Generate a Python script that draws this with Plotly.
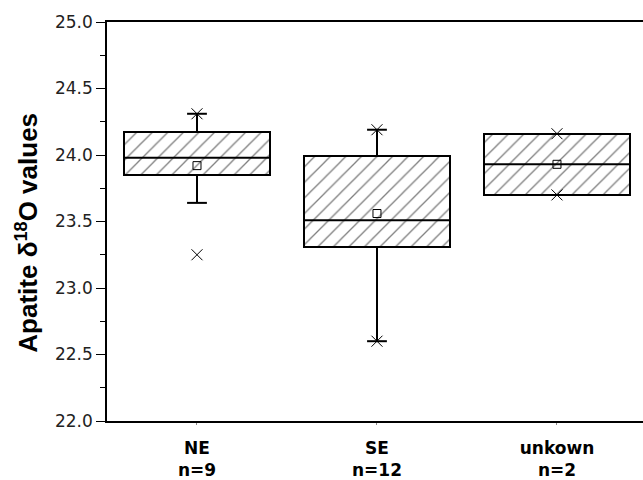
import plotly.graph_objects as go

# Box-plot summary statistics per region (apatite δ18O, ‰)
groups = ["NE", "SE", "unkown"]
n_counts = [9, 12, 2]
q1 = [23.85, 23.31, 23.70]
median = [23.98, 23.51, 23.93]
q3 = [24.17, 23.99, 24.16]
mean = [23.92, 23.56, 23.93]
whisker_lo = [23.64, 22.60, 23.70]
whisker_hi = [24.31, 24.19, 24.16]
data_min = [23.25, 22.60, 23.70]
data_max = [24.31, 24.19, 24.16]

pos = list(range(len(groups)))
box_w = 0.81
cap_w = 0.11
tick_family = "DejaVu Sans, sans-serif"
title_family = "Arial, Liberation Sans, sans-serif"

fig = go.Figure()

# hatched boxes from Q1 to Q3
fig.add_trace(go.Bar(
    x=pos,
    base=q1,
    y=[b - a for a, b in zip(q1, q3)],
    width=box_w,
    marker=dict(
        color="white",
        line=dict(color="black", width=2),
        pattern=dict(shape="/", fgcolor="black", bgcolor="white", size=11, solidity=0.12),
    ),
    hoverinfo="skip",
    showlegend=False,
))

# median lines
mx, my = [], []
for p, m in zip(pos, median):
    mx += [p - box_w / 2, p + box_w / 2, None]
    my += [m, m, None]
fig.add_trace(go.Scatter(x=mx, y=my, mode="lines",
                         line=dict(color="black", width=2), showlegend=False))

# whiskers and caps
wx, wy = [], []
for p, lo, hi, a, b in zip(pos, whisker_lo, whisker_hi, q1, q3):
    if hi > b:
        wx += [p, p, None, p - cap_w / 2, p + cap_w / 2, None]
        wy += [b, hi, None, hi, hi, None]
    if lo < a:
        wx += [p, p, None, p - cap_w / 2, p + cap_w / 2, None]
        wy += [a, lo, None, lo, lo, None]
fig.add_trace(go.Scatter(x=wx, y=wy, mode="lines",
                         line=dict(color="black", width=2), showlegend=False))

# mean markers
fig.add_trace(go.Scatter(x=pos, y=mean, mode="markers",
                         marker=dict(symbol="square-open", size=8, color="black",
                                     line=dict(width=1)),
                         showlegend=False))

# minimum / maximum markers
fig.add_trace(go.Scatter(x=pos + pos, y=data_min + data_max, mode="markers",
                         marker=dict(symbol="x-thin-open", size=11, color="black",
                                     line=dict(width=1, color="black")),
                         showlegend=False))

ticktext = [f"<b>{g}</b><br><b>n={n}</b>" for g, n in zip(groups, n_counts)]

fig.update_layout(
    width=643, height=480,
    margin=dict(l=107, r=0, t=22, b=57),
    paper_bgcolor="white", plot_bgcolor="white",
    font=dict(family=tick_family, color="black", size=17),
    bargap=0,
    xaxis=dict(
        range=[-0.5, 2.478],
        tickvals=pos, ticktext=ticktext,
        ticks="outside", ticklen=2, tickcolor="#888",
        ticklabelstandoff=9,
        showline=True, linecolor="black", linewidth=1.5, mirror=True,
        showgrid=False, zeroline=False,
        tickfont=dict(size=17, family=tick_family, color="black"),
    ),
    yaxis=dict(
        range=[22.0, 25.0],
        tickvals=[22.0, 22.5, 23.0, 23.5, 24.0, 24.5, 25.0],
        tickformat=".1f",
        ticks="outside", ticklen=9, tickwidth=1.2, tickcolor="black",
        minor=dict(ticks="outside", ticklen=5, tickwidth=1, tickcolor="black", dtick=0.25),
        showline=True, linecolor="black", linewidth=1.5,
        showgrid=False, zeroline=False,
        tickfont=dict(size=17, family=tick_family, color="#222"),
    ),
    annotations=[dict(
        text="<b>Apatite δ<sup>18</sup>O values</b>",
        xref="paper", yref="paper", x=-0.15, y=0.471,
        xanchor="center", yanchor="middle", textangle=-90, showarrow=False,
        font=dict(size=26, family=title_family, color="black"),
    )],
)

fig.write_html("out.html")
